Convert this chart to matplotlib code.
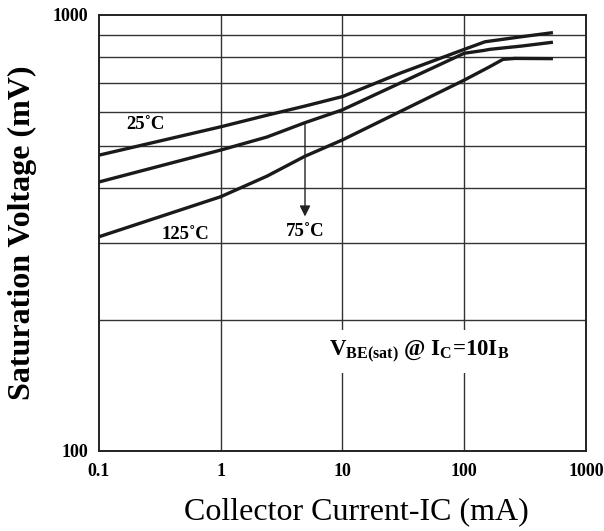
import matplotlib.pyplot as plt
from matplotlib.ticker import FixedLocator, NullLocator

# Collector current (mA) and V_BE(sat) (mV)
ic_25 = [0.1, 1, 2.4, 4.9, 10, 30, 100, 148, 300, 535]
vbe_25 = [477, 554, 589, 618, 650, 736, 834, 868, 892, 911]

ic_75 = [0.1, 1, 2.4, 4.9, 10, 100, 144, 162, 300, 535]
vbe_75 = [414, 490, 525, 566, 606, 817, 829, 834, 849, 866]

ic_125 = [0.1, 1, 2.4, 4.9, 10, 100, 162, 208, 260, 535]
vbe_125 = [310, 383, 427, 474, 517, 709, 761, 791, 795, 794]

x_ticks = [0.1, 1, 10, 100, 1000]
x_tick_labels = ["0.1", "1", "10", "100", "1000"]
y_ticks = [100, 1000]
y_tick_labels = ["100", "1000"]
y_grid = [200, 300, 400, 500, 600, 700, 800, 900]

plt.rcParams["font.family"] = ["Liberation Serif", "DejaVu Serif"]
plt.rcParams["mathtext.fontset"] = "custom"
plt.rcParams["mathtext.rm"] = "Liberation Serif"
plt.rcParams["mathtext.bf"] = "Liberation Serif:bold"

fig = plt.figure(figsize=(6.04, 5.31), dpi=100)
ax = fig.add_axes([0.1639, 0.1507, 0.8063, 0.8211])
ax.set_xscale("log")
ax.set_yscale("log")
ax.set_xlim(0.1, 1000)
ax.set_ylim(100, 1000)

# grid
for gx in x_ticks[1:-1]:
    ax.axvline(gx, color="#333333", lw=1.0, zorder=1)
for gy in y_grid:
    ax.axhline(gy, color="#333333", lw=1.0, zorder=1)

line_kw = dict(color="#1a1a1a", lw=2.4, solid_capstyle="butt", zorder=3)
ax.plot(ic_25, vbe_25, **line_kw)
ax.plot(ic_75, vbe_75, **line_kw)
ax.plot(ic_125, vbe_125, **line_kw)

ax.xaxis.set_major_locator(FixedLocator(x_ticks))
ax.xaxis.set_minor_locator(NullLocator())
ax.yaxis.set_major_locator(FixedLocator(y_ticks))
ax.yaxis.set_minor_locator(NullLocator())
ax.set_xticklabels(x_tick_labels, fontweight="bold", fontsize=13)
ax.set_yticklabels(y_tick_labels, fontweight="bold", fontsize=13)
ax.tick_params(length=0, pad=8)
ax.tick_params(axis="x", pad=9)

for s in ax.spines.values():
    s.set_linewidth(1.4)
    s.set_color("#222222")

ax.set_xlabel("Collector Current-IC (mA)", fontsize=23)
ax.xaxis.set_label_coords(0.529, -0.105)
ax.set_ylabel("Saturation Voltage (mV)", fontsize=23, fontweight="bold", labelpad=11)

# annotations
ax.text(0.24, 560, "25˚C", fontsize=13.5, fontweight="bold", ha="center", va="center")
ax.text(0.51, 314, "125˚C", fontsize=13.5, fontweight="bold", ha="center", va="center")
ax.text(4.92, 318, "75˚C", fontsize=13.5, fontweight="bold", ha="center", va="center")
ax.annotate("", xy=(4.92, 345), xytext=(4.92, 562),
            arrowprops=dict(arrowstyle="-|>", color="#222222", lw=1.0,
                            mutation_scale=16, shrinkA=0, shrinkB=0), zorder=4)
ax.text(43, 169, r"V$_{\mathbf{BE(sat)}}$ @ I$_{\mathbf{C}}$=10I$_{\mathbf{B}}$",
        fontsize=16.5, fontweight="bold", ha="center", va="center",
        bbox=dict(facecolor="white", edgecolor="none", pad=6), zorder=5)

fig.savefig("out.png", dpi=100)
